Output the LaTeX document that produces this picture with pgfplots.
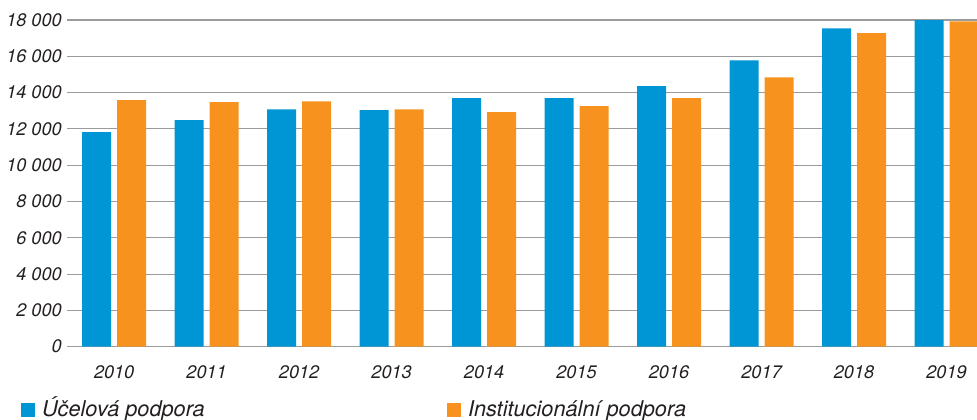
\documentclass[border=0pt]{standalone}
\usepackage{pgfplots}
\pgfplotsset{compat=1.18}
\usepackage{fontspec}
\setmainfont{TeX Gyre Heros}
\definecolor{cblue}{RGB}{0,150,214}
\definecolor{corange}{RGB}{247,146,30}
\definecolor{cgrid}{RGB}{155,155,155}
\definecolor{ctext}{RGB}{35,31,32}
\begin{document}
\begin{tikzpicture}
\begin{axis}[
  at={(50.25pt,-260pt)}, anchor=south west,
  scale only axis, width=682.5pt, height=245pt,
  xmin=-0.51, xmax=9.33, ymin=0, ymax=18000,
  scaled y ticks=false,
  axis line style={draw=none},
  major tick length=0pt,
  ybar=4.5pt, bar width=21.75pt,
  ymajorgrids, grid style={cgrid, line width=0.8pt},
  ytick={0,2000,4000,6000,8000,10000,12000,14000,16000,18000},
  yticklabels={0,2~000,4~000,6~000,8~000,10~000,12~000,14~000,16~000,18~000},
  xtick={0,1,2,3,4,5,6,7,8,9},
  xticklabels={2010,2011,2012,2013,2014,2015,2016,2017,2018,2019},
  tick label style={font=\fontsize{13.6pt}{16pt}\selectfont\itshape, text=ctext},
  yticklabel style={anchor=east, inner sep=0pt, xshift=-3.75pt},
  xticklabel style={anchor=north, inner sep=0pt, yshift=-13.7pt},
  legend columns=2,
  legend style={draw=none, fill=none, inner sep=0pt,
    at={(-0.0509,-0.2143)}, anchor=base west,
    column sep=0pt,
    nodes={inner sep=0pt, anchor=base west, font=\fontsize{16.3pt}{19pt}\selectfont\itshape, text=ctext},
    /tikz/every odd column/.style={column sep=5pt}},
  legend image code/.code={\fill[#1] (0pt,0pt) rectangle (10.8pt,10.6pt);},
]
\addplot[fill=cblue, draw=none] coordinates {
(0,11820) (1,12480) (2,13080) (3,13030) (4,13690) (5,13690) (6,14350) (7,15780) (8,17540) (9,18000)};
\addplot[fill=corange, draw=none] coordinates {
(0,13580) (1,13470) (2,13520) (3,13080) (4,12920) (5,13250) (6,13690) (7,14840) (8,17270) (9,17930)};
\addlegendentry{\makebox[303.75pt][l]{Účelová podpora}}
\addlegendentry{Institucionální podpora}
\end{axis}
\pgfresetboundingbox
\path[use as bounding box] (0pt,0pt) rectangle (732.75pt,-315pt);
\end{tikzpicture}
\end{document}
